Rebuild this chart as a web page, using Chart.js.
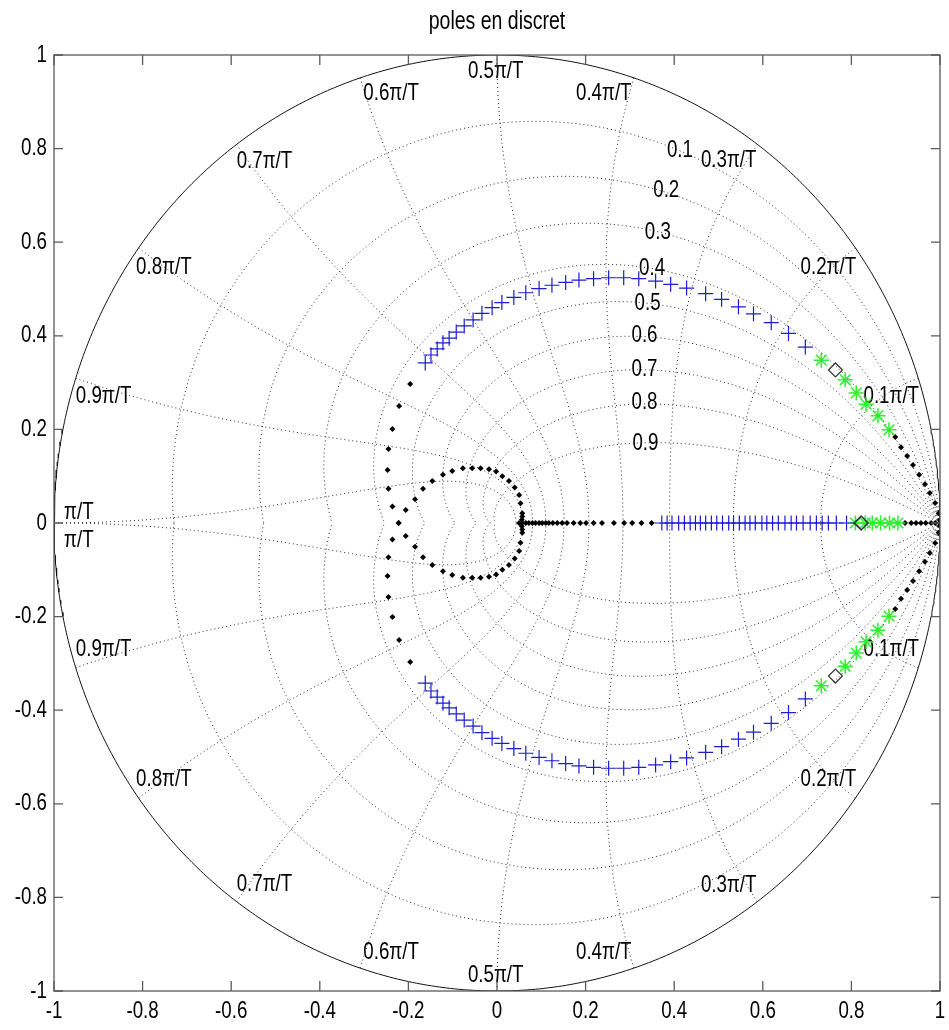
<!DOCTYPE html>
<html>
<head>
<meta charset="utf-8">
<script src="https://cdn.jsdelivr.net/npm/chart.js@4.4.0/dist/chart.umd.min.js"></script>
<style>
  html, body { margin: 0; padding: 0; background: #fff; }
  canvas { display: block; }
</style>
</head>
<body>
<canvas id="poles" width="949" height="1030"></canvas>
<script>
// ---- data (upper half, the lower half is the mirror) ----
const chartTitle = "poles en discret"
const ticks = [-1, -0.8, -0.6, -0.4, -0.2, 0, 0.2, 0.4, 0.6, 0.8, 1]
const tickLabels = ["-1", "-0.8", "-0.6", "-0.4", "-0.2", "0", "0.2", "0.4", "0.6", "0.8", "1"]

const dampings = [0.1, 0.2, 0.3, 0.4, 0.5, 0.6, 0.7, 0.8, 0.9]
const freqs = [0.1, 0.2, 0.3, 0.4, 0.5, 0.6, 0.7, 0.8, 0.9, 1] // times pi/T
const freqLabels = ["0.1π/T", "0.2π/T", "0.3π/T", "0.4π/T", "0.5π/T", "0.6π/T", "0.7π/T", "0.8π/T", "0.9π/T", "π/T"]

// blue +
const blueArcX = [-0.162, -0.149, -0.135, -0.122, -0.108, -0.092, -0.074, -0.054, -0.034, -0.011, 0.011,
  0.038, 0.065, 0.095, 0.124, 0.155, 0.185, 0.218, 0.252, 0.286, 0.320, 0.358, 0.392, 0.428, 0.471,
  0.507, 0.545, 0.579, 0.619, 0.658, 0.696]
const blueArcY = [0.342, 0.359, 0.372, 0.385, 0.395, 0.408, 0.421, 0.434, 0.448, 0.460, 0.471,
  0.482, 0.492, 0.501, 0.508, 0.514, 0.519, 0.522, 0.524, 0.524, 0.522, 0.517, 0.510, 0.502, 0.490,
  0.478, 0.462, 0.447, 0.428, 0.405, 0.376]
const blueRealX = [0.372, 0.384, 0.395, 0.410, 0.423, 0.436, 0.448, 0.459, 0.471, 0.484, 0.496, 0.509,
  0.523, 0.534, 0.547, 0.560, 0.571, 0.583, 0.598, 0.609, 0.622, 0.635, 0.650, 0.664, 0.676, 0.691,
  0.707, 0.721, 0.734, 0.748, 0.766, 0.789]

// green *
const greenArcX = [0.732, 0.786, 0.811, 0.833, 0.860, 0.885]
const greenArcY = [0.348, 0.306, 0.278, 0.254, 0.229, 0.199]
const greenRealX = [0.809, 0.831, 0.847, 0.866, 0.886, 0.905]

// open diamonds
const diamondX = [0.764, 0.822]
const diamondY = [0.327, 0]

// black dots
const dotArcX = [0.899, 0.912, 0.926, 0.939, 0.953, 0.966, 0.977, 0.989, 0.997, 1.0]
const dotArcY = [0.184, 0.162, 0.143, 0.124, 0.103, 0.083, 0.064, 0.043, 0.021, 0.006]
const dotRealX = [0.050, 0.057, 0.065, 0.072, 0.080, 0.087, 0.095, 0.102, 0.110, 0.117, 0.126, 0.136,
  0.147, 0.158, 0.173, 0.188, 0.201, 0.218, 0.237, 0.264, 0.287, 0.305, 0.326, 0.349,
  0.921, 0.935, 0.946, 0.957, 0.968, 0.980, 0.989, 0.998, 1.0]
const loopX = [0.056, 0.057, 0.057, 0.053, 0.050, 0.040, 0.027, 0.012, -0.002, -0.018, -0.037, -0.056,
  -0.077, -0.101, -0.122, -0.146, -0.167, -0.185, -0.206, -0.222]
const loopY = [0.007, 0.014, 0.021, 0.042, 0.060, 0.076, 0.090, 0.100, 0.110, 0.115, 0.117, 0.117,
  0.117, 0.111, 0.103, 0.090, 0.073, 0.051, 0.028, 0]
const outerX = [-0.196, -0.221, -0.236, -0.245, -0.247, -0.245, -0.236]
const outerY = [0.297, 0.250, 0.201, 0.158, 0.113, 0.073, 0.035]

// where zgrid put its labels (upper half)
const dampLabelSpots = [[0.413, 0.796], [0.382, 0.710], [0.363, 0.621], [0.350, 0.545], [0.340, 0.470],
  [0.333, 0.400], [0.333, 0.328], [0.333, 0.257], [0.335, 0.171]]
const freqLabelSpots = [[0.890, 0.270], [0.748, 0.547], [0.523, 0.774], [0.241, 0.918], [-0.003, 0.966],
  [-0.239, 0.918], [-0.525, 0.772], [-0.752, 0.547], [-0.888, 0.270], [-0.944, 0.023]]

// ---- helpers ----
const mirrored = (xs, ys) => {
  const pts = xs.map((x, i) => ({ x: x, y: ys[i] }))
  return pts.concat(pts.map((p) => ({ x: p.x, y: -p.y })))
}
const onAxis = (xs) => xs.map((x) => ({ x: x, y: 0 }))

// constant damping spiral, one half
const dampCurve = (zeta, sign) => {
  const pts = []
  const k = zeta / Math.sqrt(1 - zeta * zeta)
  for (let i = 0; i <= 300; i++) {
    const w = (Math.PI * i) / 300
    const r = Math.exp(-k * w)
    pts.push({ x: r * Math.cos(w), y: sign * r * Math.sin(w) })
  }
  return pts
}

// constant natural frequency curve, one half
const freqCurve = (wn, sign) => {
  const pts = []
  for (let i = 0; i <= 120; i++) {
    const zeta = i / 120
    const r = Math.exp(-zeta * wn)
    const a = wn * Math.sqrt(1 - zeta * zeta)
    pts.push({ x: r * Math.cos(a), y: sign * r * Math.sin(a) })
  }
  return pts
}

const unitCircle = []
for (let i = 0; i <= 720; i++) {
  const a = (2 * Math.PI * i) / 720
  unitCircle.push({ x: Math.cos(a), y: Math.sin(a) })
}

const gridStyle = {
  showLine: true,
  pointRadius: 0,
  borderColor: "#2a2a2a",
  borderWidth: 1,
  borderDash: [1, 3],
  order: 10,
}

const gridSets = []
dampings.forEach((z) => {
  gridSets.push({ ...gridStyle, data: dampCurve(z, 1) })
  gridSets.push({ ...gridStyle, data: dampCurve(z, -1) })
})
freqs.forEach((f) => {
  gridSets.push({ ...gridStyle, data: freqCurve(f * Math.PI, 1) })
  gridSets.push({ ...gridStyle, data: freqCurve(f * Math.PI, -1) })
})

const FONT = '24px "Liberation Sans", Arial, sans-serif'
const SQUEEZE = 0.78

const drawText = (ctx, str, px, py, align) => {
  ctx.save()
  ctx.translate(px, py)
  ctx.scale(SQUEEZE, 1)
  ctx.textAlign = align
  ctx.textBaseline = "middle"
  ctx.fillText(str, 0, 0)
  ctx.restore()
}

const zgridText = {
  id: "zgridText",
  beforeDatasetsDraw(chart) {
    const { ctx } = chart
    const xs = chart.scales.x
    const ys = chart.scales.y
    ctx.save()
    ctx.font = FONT
    ctx.fillStyle = "#000"
    dampings.forEach((z, i) => {
      const [x, y] = dampLabelSpots[i]
      drawText(ctx, String(z), xs.getPixelForValue(x), ys.getPixelForValue(y), "center")
    })
    freqLabels.forEach((lab, i) => {
      const [x, y] = freqLabelSpots[i]
      const yLow = i === freqLabels.length - 1 ? -0.038 : -y
      drawText(ctx, lab, xs.getPixelForValue(x), ys.getPixelForValue(y), "center")
      drawText(ctx, lab, xs.getPixelForValue(x), ys.getPixelForValue(yLow), "center")
    })
    ctx.restore()
  },
  afterDraw(chart) {
    const { ctx, chartArea: a } = chart
    const xs = chart.scales.x
    const ys = chart.scales.y
    ctx.save()
    ctx.strokeStyle = "#5a5a5a"
    ctx.lineWidth = 1.3
    ctx.strokeRect(a.left, a.top, a.right - a.left, a.bottom - a.top)
    ctx.beginPath()
    ticks.forEach((t) => {
      const px = xs.getPixelForValue(t)
      ctx.moveTo(px, a.bottom)
      ctx.lineTo(px, a.bottom - 10)
      ctx.moveTo(px, a.top)
      ctx.lineTo(px, a.top + 10)
      const py = ys.getPixelForValue(t)
      ctx.moveTo(a.left, py)
      ctx.lineTo(a.left + 9, py)
      ctx.moveTo(a.right, py)
      ctx.lineTo(a.right - 9, py)
    })
    ctx.stroke()

    ctx.font = FONT
    ctx.fillStyle = "#000"
    ticks.forEach((t, i) => {
      drawText(ctx, tickLabels[i], xs.getPixelForValue(t), a.bottom + 20, "center")
      drawText(ctx, tickLabels[i], a.left - 7, ys.getPixelForValue(t), "right")
    })
    ctx.font = '25px "Liberation Sans", Arial, sans-serif'
    drawText(ctx, chartTitle, (a.left + a.right) / 2, 22, "center")
    ctx.restore()
  },
}

new Chart(document.getElementById("poles"), {
  type: "scatter",
  data: {
    datasets: [
      {
        data: mirrored(blueArcX, blueArcY).concat(onAxis(blueRealX)),
        pointStyle: "cross",
        pointRadius: 7.5,
        borderColor: "#1c1cd4",
        borderWidth: 1.2,
        order: 2,
      },
      {
        data: mirrored(greenArcX, greenArcY).concat(onAxis(greenRealX)),
        pointStyle: "star",
        pointRadius: 7.5,
        borderColor: "#2cf02c",
        borderWidth: 1.5,
        order: 2,
      },
      {
        data: mirrored(diamondX, diamondY),
        pointStyle: "rectRot",
        pointRadius: 7,
        backgroundColor: "rgba(0,0,0,0)",
        borderColor: "#333",
        borderWidth: 1.2,
        order: 1,
      },
      {
        data: mirrored(dotArcX, dotArcY)
          .concat(onAxis(dotRealX))
          .concat(mirrored(loopX, loopY))
          .concat(mirrored(outerX, outerY)),
        pointStyle: "rectRot",
        pointRadius: 3,
        backgroundColor: "#000",
        borderColor: "#000",
        borderWidth: 0,
        order: 3,
      },
      {
        data: unitCircle,
        showLine: true,
        pointRadius: 0,
        borderColor: "#111",
        borderWidth: 1,
        order: 9,
      },
      ...gridSets,
    ],
  },
  options: {
    responsive: false,
    animation: false,
    layout: { padding: { left: 54, right: 7, top: 55, bottom: 39 } },
    plugins: { legend: { display: false }, tooltip: { enabled: false }, title: { display: false } },
    scales: {
      x: { type: "linear", min: -1, max: 1, display: false },
      y: { type: "linear", min: -1, max: 1, display: false },
    },
  },
  plugins: [zgridText],
})
</script>
</body>
</html>
